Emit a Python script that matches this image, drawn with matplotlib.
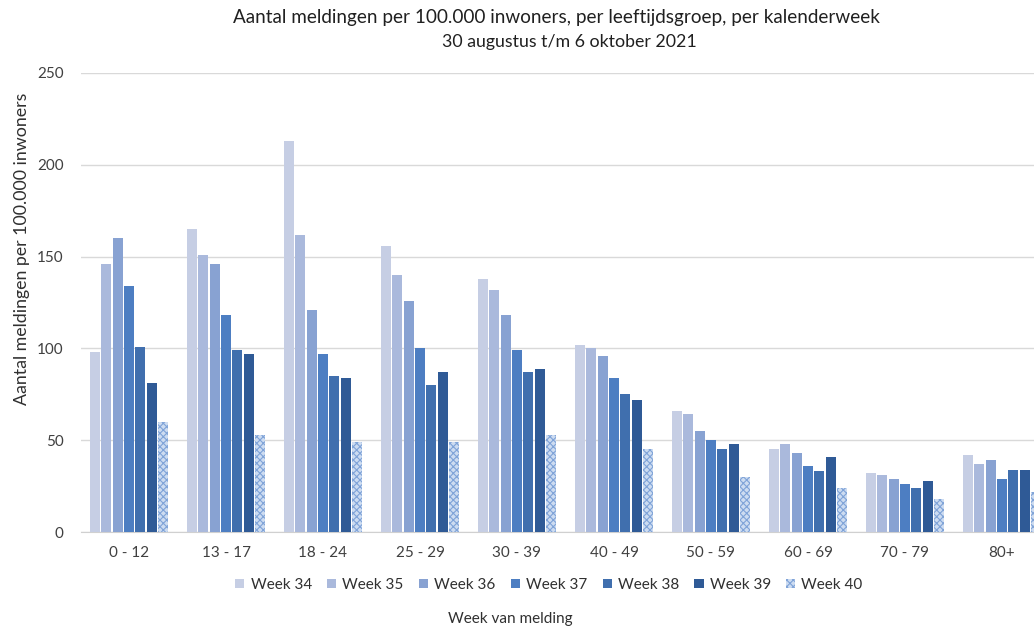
"""
Meldingen per 100.000 inwoners per leeftijdsgroep, week 34 t/m 40.
"""

import numpy as np
import matplotlib.pyplot as plt

plt.rcParams['font.family'] = ['Lato', 'DejaVu Sans']
plt.rcParams['hatch.linewidth'] = 0.8

# Data
age_groups = ['0 - 12', '13 - 17', '18 - 24', '25 - 29', '30 - 39',
              '40 - 49', '50 - 59', '60 - 69', '70 - 79', '80+']
weeks = ['Week 34', 'Week 35', 'Week 36', 'Week 37', 'Week 38', 'Week 39', 'Week 40']

week34 = [98, 165, 213, 156, 138, 102, 66, 45, 32, 42]
week35 = [146, 151, 162, 140, 132, 100, 64, 48, 31, 37]
week36 = [160, 146, 121, 126, 118, 96, 55, 43, 29, 39]
week37 = [134, 118, 97, 100, 99, 84, 50, 36, 26, 29]
week38 = [101, 99, 85, 80, 87, 75, 45, 33, 24, 34]
week39 = [81, 97, 84, 87, 89, 72, 48, 41, 28, 34]
week40 = [60, 53, 49, 49, 53, 45, 30, 24, 18, 22]
series = [week34, week35, week36, week37, week38, week39, week40]

colors = ['#c6cee4', '#aab9dc', '#88a2d2', '#4d7ec2', '#406fae', '#2f5a96']

fig = plt.figure(figsize=(10.34, 6.29), dpi=100)
# axes run a little past the right border, like the cropped original
ax = fig.add_axes([80.5 / 1034, 97 / 629, 970 / 1034, 459 / 629])

x = np.arange(len(age_groups))
slot = 0.118
width = 0.103
handles = []
for i, vals in enumerate(series):
    pos = x + (i - 3) * slot
    if i < 6:
        b = ax.bar(pos, vals, width, color=colors[i], zorder=3, label=weeks[i])
    else:
        b = ax.bar(pos, vals, width, facecolor='#cddcf1', edgecolor='#7fa3d8',
                   hatch='xxxxx', linewidth=0, zorder=3, label=weeks[i])
    handles.append(b)

ax.set_xlim(-0.5, 9.5)
ax.set_ylim(0, 250)
ax.set_yticks([0, 50, 100, 150, 200, 250])
ax.set_xticks(x)
ax.set_xticklabels(age_groups)
ax.tick_params(axis='both', length=0, labelsize=11, colors='#404040')
ax.tick_params(axis='y', pad=12)
ax.tick_params(axis='x', pad=10)
ax.grid(axis='y', color='#d9d9d9', linewidth=1, zorder=0)
for side in ['top', 'right', 'left']:
    ax.spines[side].set_visible(False)
ax.spines['bottom'].set_color('#d0d0d0')

fig.text(556 / 1034, 1 - 18 / 629,
         'Aantal meldingen per 100.000 inwoners, per leeftijdsgroep, per kalenderweek',
         ha='center', va='center', fontsize=13.6, color='#202020')
fig.text(569 / 1034, 1 - 42 / 629, '30 augustus t/m 6 oktober 2021',
         ha='center', va='center', fontsize=12.8, color='#202020')
fig.text(22 / 1034, 1 - 249 / 629, 'Aantal meldingen per 100.000 inwoners',
         rotation=90, ha='center', va='center', fontsize=12.8, color='#303030')
fig.text(510 / 1034, 1 - 619 / 629, 'Week van melding',
         ha='center', va='center', fontsize=11, color='#303030')

fig.legend(handles=handles, labels=weeks, loc='center', ncol=7,
           bbox_to_anchor=(549 / 1034, 1 - 585 / 629), frameon=False,
           fontsize=11, handlelength=0.6, handleheight=0.6, handletextpad=0.4,
           columnspacing=1.0, labelcolor='#303030')

plt.savefig('out.png', dpi=100)
